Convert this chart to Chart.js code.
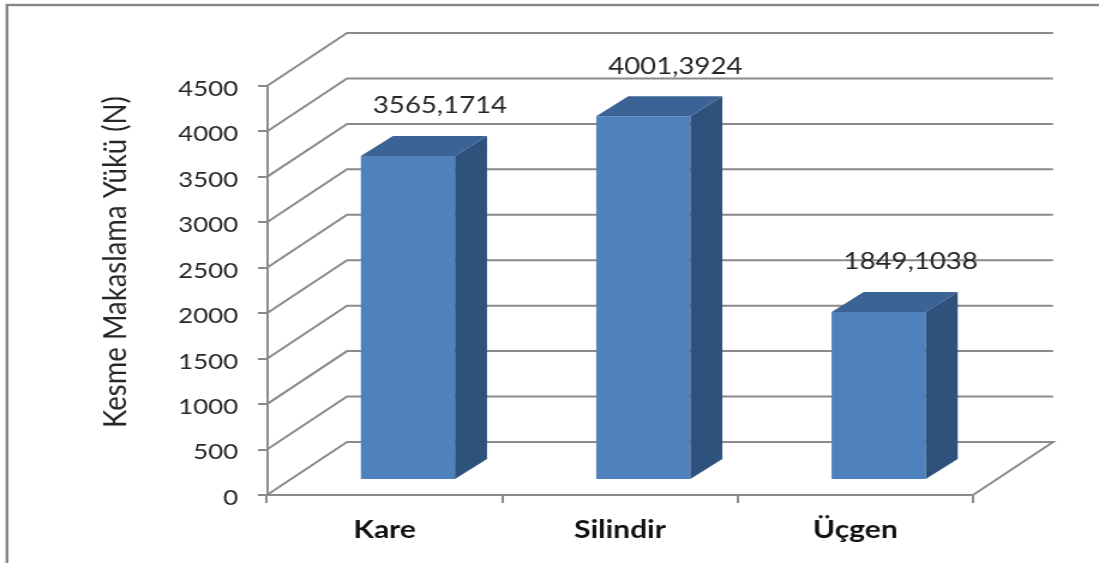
<!DOCTYPE html>
<html>
<head>
<meta charset="utf-8">
<script src="https://cdn.jsdelivr.net/npm/chart.js@4/dist/chart.umd.min.js"></script>
<style>
  html, body { margin:0; padding:0; background:#fff; overflow:hidden; }
  /* chart is laid out narrower and widened, like the original figure */
  #wrap { width:916px; height:563px; transform:scaleX(1.19978); transform-origin:0 0; }
</style>
</head>
<body>
<div id="wrap"><canvas id="shear"></canvas></div>
<script>
const categories = ['Kare', 'Silindir', 'Üçgen'];
const shearLoad  = [3565.1714, 4001.3924, 1849.1038];
const yTicks     = [0, 500, 1000, 1500, 2000, 2500, 3000, 3500, 4000, 4500];
const yTitle     = 'Kesme Makaslama Yükü (N)';

(function(){
  const cFront = '#4F81BD';
  const cTop   = '#3B6395';
  const cSide  = '#2F527D';
  const cLine  = '#8a8a8a';
  const cText  = '#262626';

  // depth of the back wall, offset of the bars into the room, and bar depth
  const wallDx = 66.7, wallDy = -53;
  const barDx  = 19.4, barDy  = -15;
  const sideDx = 26.7, sideDy = -20;

  const fmt = v => v.toFixed(4).replace('.', ',');

  const box3d = {
    id: 'box3d',
    beforeDraw(chart) {
      const ctx = chart.ctx;
      ctx.save();
      ctx.strokeStyle = '#868686';
      ctx.lineWidth = 2.4;
      ctx.strokeRect(5.8, 5, 2000, 2000);
      ctx.restore();
    },
    beforeDatasetsDraw(chart) {
      const {ctx, chartArea: a, scales: {y}} = chart;
      ctx.save();
      ctx.strokeStyle = cLine;
      ctx.lineWidth = 2;
      yTicks.forEach(v => {
        const py = y.getPixelForValue(v);
        ctx.beginPath();
        ctx.moveTo(a.left, py);
        ctx.lineTo(a.left + wallDx, py + wallDy);
        ctx.lineTo(a.right + wallDx, py + wallDy);
        if (v === 0) ctx.lineTo(a.right, py);
        ctx.stroke();
      });
      ctx.restore();
    },
    beforeDatasetDraw(chart) {
      chart.ctx.save();
      chart.ctx.translate(barDx, barDy);
    },
    afterDatasetDraw(chart, args) {
      const ctx = chart.ctx;
      args.meta.data.forEach(el => {
        const {x, y, base, width} = el.getProps(['x', 'y', 'base', 'width'], true);
        const l = x - width / 2, r = x + width / 2;
        ctx.fillStyle = cSide;
        ctx.beginPath();
        ctx.moveTo(r, y);
        ctx.lineTo(r + sideDx, y + sideDy);
        ctx.lineTo(r + sideDx, base + sideDy);
        ctx.lineTo(r, base);
        ctx.closePath();
        ctx.fill();
        ctx.fillStyle = cTop;
        ctx.beginPath();
        ctx.moveTo(l, y);
        ctx.lineTo(l + sideDx, y + sideDy);
        ctx.lineTo(r + sideDx, y + sideDy);
        ctx.lineTo(r, y);
        ctx.closePath();
        ctx.fill();
      });
      ctx.restore();

      // value labels above each column
      ctx.save();
      ctx.font = '23px Lato';
      ctx.fillStyle = cText;
      ctx.textAlign = 'center';
      ctx.textBaseline = 'middle';
      args.meta.data.forEach((el, i) => {
        ctx.fillText(fmt(shearLoad[i]), el.x + barDx + sideDx, el.y + barDy - 50);
      });
      ctx.restore();
    },
    afterDraw(chart) {
      const ctx = chart.ctx;
      ctx.save();
      ctx.translate(96, 262);
      ctx.rotate(-Math.PI / 2);
      ctx.font = '27.5px Lato';
      ctx.fillStyle = cText;
      ctx.textAlign = 'center';
      ctx.textBaseline = 'middle';
      ctx.fillText(yTitle, 0, 0);
      ctx.restore();
    }
  };

  new Chart(document.getElementById('shear'), {
    type: 'bar',
    data: {
      labels: categories,
      datasets: [{
        data: shearLoad,
        backgroundColor: cFront,
        borderWidth: 0,
        barPercentage: 0.4,
        categoryPercentage: 1,
        clip: false
      }]
    },
    options: {
      responsive: true,
      maintainAspectRatio: false,
      animation: false,
      layout: { padding: { top: 86, right: 105, left: 0, bottom: 0 } },
      plugins: {
        legend: { display: false },
        tooltip: { enabled: false }
      },
      scales: {
        x: {
          grid: { offset: true, drawOnChartArea: false, tickLength: 8, color: cLine, lineWidth: 2 },
          border: { color: cLine, width: 2 },
          ticks: { color: '#111', padding: 12, font: { family: 'Lato', size: 25, weight: 'bold' } },
          afterFit(s) { s.height = 68; }
        },
        y: {
          min: 0,
          max: 4500,
          afterBuildTicks(s) { s.ticks = yTicks.map(v => ({ value: v })); },
          grid: { drawOnChartArea: false, tickLength: 7.5, color: cLine, lineWidth: 2 },
          border: { color: cLine, width: 2 },
          ticks: {
            color: cText, padding: 16.6, labelOffset: 3,
            font: { family: 'Lato', size: 21.5 },
            callback: v => String(v)
          },
          afterFit(s) { s.width = 222.5; }
        }
      }
    },
    plugins: [box3d]
  });
})();
</script>
</body>
</html>
